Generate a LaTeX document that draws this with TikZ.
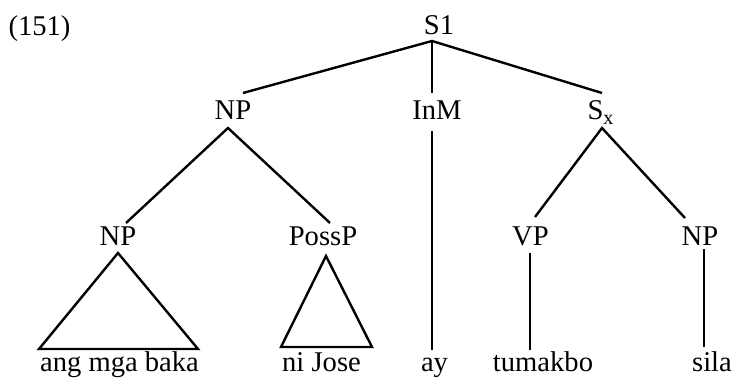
\documentclass[tikz,border=0pt]{standalone}
\usepackage{fontspec}
\setmainfont{Liberation Serif}

\begin{document}
\begin{tikzpicture}[
        x=0.5pt, y=-0.5pt,
        line width=1.2pt,
        lbl/.style={anchor=base, inner sep=0pt, font=\fontsize{14.3}{17}\selectfont},
    ]
        \useasboundingbox (0,0) rectangle (733,378);

        \node[lbl] (ex) at (39.5,36) {(151)};

        \node[lbl] (s1) at (439,35) {S1};
        \node[lbl] (np) at (233,120) {NP};
        \node[lbl] (inm) at (437,120) {InM};
        \node[lbl] (sx) at (601,120) {S\textsubscript{x}};
        \node[lbl] (npa) at (118,246) {NP};
        \node[lbl] (possp) at (323,246) {PossP};
        \node[lbl] (vp) at (530.5,246) {VP};
        \node[lbl] (npb) at (700,246) {NP};

        \node[lbl] (baka) at (119.5,372) {ang mga baka};
        \node[lbl] (jose) at (321.5,372) {ni Jose};
        \node[lbl] (ay) at (434.5,372) {ay};
        \node[lbl] (tumakbo) at (543,372) {tumakbo};
        \node[lbl] (sila) at (712,372) {sila};

        % branch points under and over the labels
        \coordinate (s1-b) at (432,41);
        \coordinate (np-t) at (243,93);
        \coordinate (inm-t) at (432,93);
        \coordinate (sx-t) at (602,93);
        \coordinate (np-b) at (228,128);
        \coordinate (inm-b) at (432,131);
        \coordinate (sx-b) at (602,128);
        \coordinate (npa-t) at (126,223);
        \coordinate (possp-t) at (330,223);
        \coordinate (vp-t) at (535,217);
        \coordinate (npb-t) at (685,218);
        \coordinate (vp-b) at (530,253);
        \coordinate (npb-b) at (704,249);
        \coordinate (ay-t) at (432,350);
        \coordinate (tumakbo-t) at (530,350);
        \coordinate (sila-t) at (704,347);

        \draw (np-t) -- (s1-b) -- (sx-t);
        \draw (s1-b) -- (inm-t);
        \draw (npa-t) -- (np-b) -- (possp-t);
        \draw (vp-t) -- (sx-b) -- (npb-t);
        \draw (inm-b) -- (ay-t);
        \draw (vp-b) -- (tumakbo-t);
        \draw (npb-b) -- (sila-t);

        % roofs over the unanalysed phrases
        \draw (118,253) -- (39,349) -- (198,349) -- cycle;
        \draw (326,256) -- (281,347) -- (372,347) -- cycle;
    \end{tikzpicture}
\end{document}
